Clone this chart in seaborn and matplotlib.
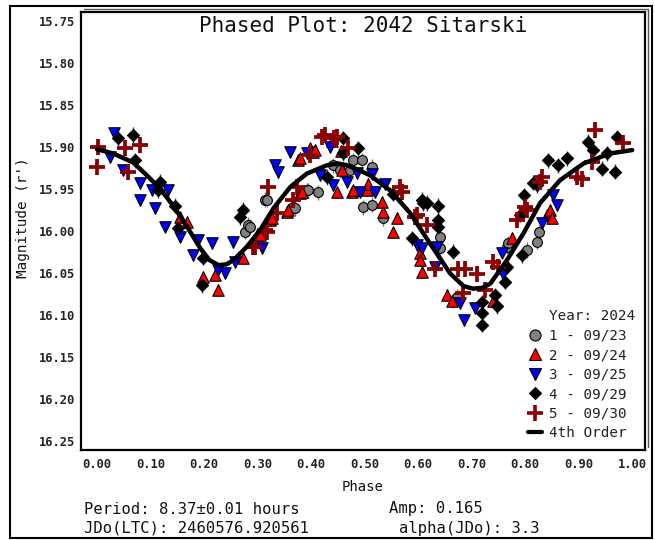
import numpy as np
import pandas as pd
import matplotlib
matplotlib.use("Agg")
import matplotlib.pyplot as plt
import seaborn as sns
from matplotlib.lines import Line2D
from matplotlib.patches import Rectangle

# ---------------- data ----------------
S1_PHASE = [0.277, 0.282, 0.286, 0.314, 0.317, 0.366, 0.370, 0.392, 0.394, 0.413,
            0.441, 0.454, 0.473, 0.479, 0.495, 0.497, 0.514, 0.514, 0.535, 0.641,
            0.641, 0.673, 0.766, 0.768, 0.803, 0.822, 0.826]
S1_MAG = [16.001, 15.993, 15.995, 15.963, 15.963, 15.972, 15.973, 15.952, 15.952, 15.954,
          15.922, 15.928, 15.928, 15.916, 15.916, 15.972, 15.924, 15.969, 15.985, 16.007,
          16.021, 16.079, 16.019, 16.015, 16.023, 16.013, 16.002]

S2_PHASE = [0.155, 0.168, 0.198, 0.221, 0.226, 0.273, 0.299, 0.305, 0.323, 0.327,
            0.355, 0.357, 0.376, 0.379, 0.379, 0.383, 0.398, 0.404, 0.407, 0.440,
            0.448, 0.455, 0.458, 0.476, 0.479, 0.504, 0.507, 0.532, 0.535, 0.553,
            0.560, 0.604, 0.604, 0.607, 0.654, 0.663, 0.740, 0.775, 0.841, 0.847, 0.850]
S2_MAG = [15.984, 15.990, 16.055, 16.053, 16.071, 16.032, 16.005, 16.005, 15.987, 15.985,
          15.978, 15.975, 15.916, 15.914, 15.955, 15.954, 15.902, 15.906, 15.904, 15.893,
          15.954, 15.905, 15.928, 15.954, 15.952, 15.952, 15.944, 15.966, 15.978, 16.002,
          15.985, 16.027, 16.035, 16.049, 16.076, 16.084, 16.084, 16.009, 15.981, 15.975, 15.985]

S3_PHASE = [0.024, 0.031, 0.049, 0.080, 0.080, 0.102, 0.108, 0.127, 0.133, 0.155,
            0.180, 0.189, 0.215, 0.226, 0.239, 0.254, 0.258, 0.308, 0.333, 0.339,
            0.361, 0.392, 0.417, 0.436, 0.441, 0.467, 0.486, 0.492, 0.513, 0.519,
            0.538, 0.598, 0.607, 0.632, 0.635, 0.678, 0.685, 0.707, 0.757, 0.759,
            0.832, 0.853, 0.859]
S3_MAG = [15.912, 15.884, 15.928, 15.943, 15.963, 15.952, 15.973, 15.995, 15.952, 16.007,
          16.029, 16.011, 16.015, 16.047, 16.050, 16.013, 16.037, 16.021, 15.922, 15.930,
          15.906, 15.908, 15.934, 15.900, 15.946, 15.942, 15.931, 15.954, 15.932, 15.954,
          15.944, 16.017, 16.020, 16.043, 16.019, 16.086, 16.106, 16.092, 16.026, 16.051,
          15.991, 15.958, 15.969]

S4_PHASE = [0.040, 0.068, 0.071, 0.114, 0.118, 0.146, 0.152, 0.196, 0.198, 0.267,
            0.273, 0.430, 0.460, 0.460, 0.488, 0.553, 0.589, 0.607, 0.609, 0.617,
            0.637, 0.637, 0.637, 0.665, 0.720, 0.720, 0.720, 0.744, 0.747, 0.763,
            0.766, 0.791, 0.794, 0.797, 0.815, 0.822, 0.843, 0.862, 0.878, 0.918,
            0.927, 0.944, 0.953, 0.968, 0.972]
S4_MAG = [15.890, 15.886, 15.916, 15.952, 15.942, 15.970, 15.997, 16.065, 16.032, 15.984,
          15.975, 15.936, 15.890, 15.908, 15.902, 15.956, 16.009, 15.963, 15.967, 15.967,
          15.970, 15.987, 15.995, 16.025, 16.085, 16.098, 16.112, 16.077, 16.090, 16.061,
          16.043, 15.981, 16.029, 15.958, 15.943, 15.946, 15.916, 15.922, 15.914, 15.894,
          15.904, 15.926, 15.908, 15.930, 15.889]

S5_PHASE = [0.000, 0.002, 0.052, 0.058, 0.080, 0.292, 0.295, 0.314, 0.318, 0.320,
            0.336, 0.366, 0.374, 0.398, 0.420, 0.426, 0.442, 0.448, 0.469, 0.566,
            0.570, 0.594, 0.598, 0.617, 0.632, 0.675, 0.684, 0.688, 0.710, 0.725,
            0.740, 0.750, 0.785, 0.800, 0.804, 0.828, 0.832, 0.897, 0.907, 0.925,
            0.931, 0.983]
S5_MAG = [15.924, 15.900, 15.902, 15.930, 15.898, 16.019, 16.019, 15.999, 16.001, 15.948,
          15.979, 15.963, 15.948, 15.910, 15.889, 15.886, 15.890, 15.888, 15.902, 15.948,
          15.954, 15.984, 15.981, 15.993, 16.045, 16.045, 16.074, 16.045, 16.051, 16.071,
          16.037, 16.043, 15.987, 15.972, 15.975, 15.942, 15.936, 15.936, 15.938, 15.918,
          15.880, 15.896]

SESSION_ERR = [0.009, 0.007, 0.007, 0.009, 0.008]

FIT_PHASE = [0.000, 0.030, 0.068, 0.093, 0.118, 0.143, 0.168, 0.193, 0.210, 0.227,
             0.242, 0.255, 0.280, 0.305, 0.330, 0.361, 0.392, 0.430, 0.450, 0.467,
             0.490, 0.510, 0.548, 0.585, 0.622, 0.660, 0.685, 0.703, 0.720, 0.735,
             0.766, 0.797, 0.828, 0.865, 0.909, 0.959, 1.000]
FIT_MAG = [15.903, 15.908, 15.919, 15.934, 15.950, 15.971, 15.995, 16.021, 16.035, 16.041,
           16.040, 16.035, 16.019, 15.999, 15.973, 15.948, 15.932, 15.922, 15.920, 15.922,
           15.928, 15.934, 15.952, 15.979, 16.015, 16.051, 16.066, 16.069, 16.068, 16.063,
           16.035, 16.003, 15.967, 15.940, 15.920, 15.908, 15.904]

LEGEND_TITLE = "Year: 2024"
SESSION_LABELS = ["1 - 09/23", "2 - 09/24", "3 - 09/25", "4 - 09/29", "5 - 09/30"]
FIT_LABEL = "4th Order"
XTICKS = [0.0, 0.1, 0.2, 0.3, 0.4, 0.5, 0.6, 0.7, 0.8, 0.9, 1.0]
YTICKS = [15.75, 15.80, 15.85, 15.90, 15.95, 16.00, 16.05, 16.10, 16.15, 16.20, 16.25]
TITLE = "Phased Plot: 2042 Sitarski"
XLABEL = "Phase"
YLABEL = "Magnitude (r')"
INFO_LEFT = ["Period: 8.37\u00b10.01 hours", "JDo(LTC): 2460576.920561"]
INFO_RIGHT = ["Amp: 0.165", "alpha(JDo): 3.3"]

# ---------------- styling ----------------
sns.set_theme(style="white")
plt.rcParams['font.family'] = ['DejaVu Sans Mono', 'DejaVu Sans']

W, H = 655, 540
fig = plt.figure(figsize=(W / 100, H / 100), dpi=100)
fig.patch.set_facecolor("white")


def fx(px):
    return px / W


def fy(py):
    return 1 - py / H


ax = fig.add_axes([fx(81), fy(450), fx(645) - fx(81), fy(12) - fy(450)])
ax.set_facecolor("white")

styles = [
    dict(marker="o", color="#808080", s=50, edgecolor="black", linewidth=0.8),
    dict(marker="^", color="#ff0000", s=68, edgecolor="black", linewidth=0.8),
    dict(marker="v", color="#0000ff", s=68, edgecolor="black", linewidth=0.8),
    dict(marker="D", color="#000000", s=38, edgecolor="black", linewidth=0.8),
    dict(marker="+", color="#8b0000", s=120, linewidth=2.7),
]
err_colors = ["#707070", "#9a2020", "#3030c0", "#404040", "#8b0000"]

sessions = [(S1_PHASE, S1_MAG), (S2_PHASE, S2_MAG), (S3_PHASE, S3_MAG),
            (S4_PHASE, S4_MAG), (S5_PHASE, S5_MAG)]

for i, (ph, mg) in enumerate(sessions):
    ax.errorbar(ph, mg, yerr=SESSION_ERR[i], fmt="none", ecolor=err_colors[i],
                elinewidth=1.0, zorder=2 + i * 0.1)
for i, (ph, mg) in enumerate(sessions):
    df = pd.DataFrame({"phase": ph, "mag": mg})
    sns.scatterplot(data=df, x="phase", y="mag", ax=ax, legend=False,
                    zorder=3 + i * 0.1, **styles[i])

fit_df = pd.DataFrame({"phase": FIT_PHASE, "mag": FIT_MAG})
sns.lineplot(data=fit_df, x="phase", y="mag", ax=ax, color="black", lw=3.2,
             sort=False, estimator=None, zorder=10)

ax.set_xlim(-0.030, 1.024)
ax.set_ylim(16.2611, 15.7396)
ax.set_xticks(XTICKS)
ax.set_xticklabels([f"{v:.2f}" for v in XTICKS])
ax.set_yticks(YTICKS)
ax.set_yticklabels([f"{v:.2f}" for v in YTICKS])
ax.tick_params(axis="both", direction="in", length=8, width=1.0, colors="#222222",
               labelsize=8.7, pad=4)
ax.tick_params(axis="x", pad=6)
for lbl in ax.get_xticklabels() + ax.get_yticklabels():
    lbl.set_fontweight("bold")
    lbl.set_color("#2a2222")
ax.set_xlabel("")
ax.set_ylabel("")
for sp in ax.spines.values():
    sp.set_color("black")
    sp.set_linewidth(1.6)

# legend
handles = [Line2D([], [], color="none", label=LEGEND_TITLE)]
leg_specs = [("o", "#808080", "black", 8, 0.8), ("^", "#ff0000", "black", 9, 0.8),
             ("v", "#0000ff", "black", 9, 0.8), ("D", "#000000", "black", 6.5, 0.8),
             ("+", "#8b0000", "#8b0000", 11, 2.6)]
for (m, fc, ec, ms, mew), lab in zip(leg_specs, SESSION_LABELS):
    handles.append(Line2D([], [], linestyle="none", marker=m, markerfacecolor=fc,
                          markeredgecolor=ec, markersize=ms, markeredgewidth=mew,
                          label=lab))
handles.append(Line2D([], [], color="black", lw=3, label=FIT_LABEL))
leg = ax.legend(handles=handles, loc="lower right", frameon=False, fontsize=10.3,
                handlelength=1.0, handletextpad=0.45, labelspacing=0.38,
                borderaxespad=0.35, borderpad=0.35)
for t in leg.get_texts():
    t.set_color("#222222")

# texts
fig.text(fx(363), fy(32), TITLE, ha="center", va="baseline", fontsize=15, color="#111111")
fig.text(fx(363), fy(487), XLABEL, ha="center", va="center", fontsize=10, color="#111111")
fig.text(fx(23), fy(218), YLABEL, ha="center", va="center", rotation=90, fontsize=10.3,
         color="#111111")
fig.text(fx(84), fy(509), INFO_LEFT[0], ha="left", va="center", fontsize=11.2, color="#111111")
fig.text(fx(84), fy(528), INFO_LEFT[1], ha="left", va="center", fontsize=11.2, color="#111111")
fig.text(fx(389), fy(509), INFO_RIGHT[0], ha="left", va="center", fontsize=11.2, color="#111111")
fig.text(fx(399), fy(528), INFO_RIGHT[1], ha="left", va="center", fontsize=11.2, color="#111111")

# double line on top/right of the plot frame and outer frame
fig.add_artist(Line2D([fx(84), fx(648), fx(648)], [fy(9), fy(9), fy(447)],
                      transform=fig.transFigure, color="#555555", lw=1.0))
fig.patches.append(Rectangle((fx(10), fy(538)), fx(652) - fx(10), fy(6) - fy(538),
                             transform=fig.transFigure, fill=False, edgecolor="black",
                             linewidth=1.5, zorder=0))

fig.savefig("out.png", dpi=100)
